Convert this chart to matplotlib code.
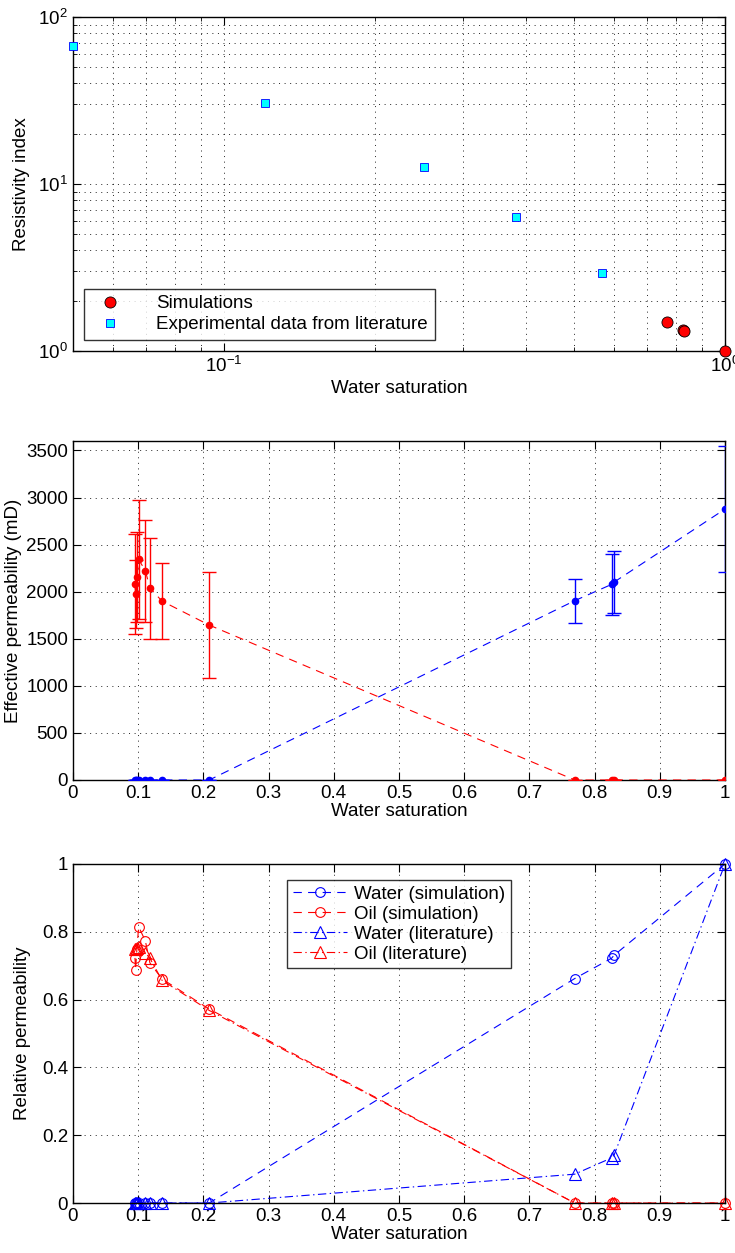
import matplotlib
matplotlib.use("Agg")
import matplotlib.pyplot as plt
from matplotlib.ticker import FormatStrFormatter, LogLocator, NullFormatter

plt.rcParams['font.family'] = ['Liberation Sans', 'DejaVu Sans']
plt.rcParams['font.size'] = 13.5
plt.rcParams['lines.scale_dashes'] = False
plt.rcParams['xtick.direction'] = 'in'
plt.rcParams['ytick.direction'] = 'in'
plt.rcParams['xtick.top'] = True
plt.rcParams['ytick.right'] = True
plt.rcParams['axes.linewidth'] = 1.0

# --- resistivity index (top) ---
ri_sw_sim = [0.766, 0.825, 0.83, 1.0]
ri_sim = [1.49, 1.34, 1.32, 1.0]
ri_sw_lit = [0.05, 0.121, 0.251, 0.382, 0.569]
ri_lit = [67.0, 30.5, 12.6, 6.35, 2.93]

# --- effective permeability (middle) ---
sw = [0.095, 0.096, 0.098, 0.1007, 0.111, 0.118, 0.1365, 0.209, 0.7694, 0.826, 0.830, 1.0]
k_oil = [2081, 1975, 2159, 2342, 2222, 2038, 1900, 1645, 0, 0, 0, 0]
k_oil_err = [527, 364, 477, 628, 543, 537, 400, 560, 0, 0, 0, 0]
k_water = [0, 0, 0, 0, 0, 0, 0, 0, 1904, 2077, 2102, 2877]
k_water_err = [0, 0, 0, 0, 0, 0, 0, 0, 232, 325, 332, 670]

# --- relative permeability (bottom) ---
kr_w_sim = [0, 0, 0, 0, 0, 0, 0, 0, 0.662, 0.722, 0.731, 1.0]
kr_o_sim = [0.723, 0.688, 0.750, 0.815, 0.773, 0.708, 0.661, 0.572, 0, 0, 0, 0]
kr_w_lit = [0, 0, 0, 0, 0, 0, 0, 0, 0.085, 0.133, 0.142, 1.0]
kr_o_lit = [0.748, 0.750, 0.752, 0.756, 0.738, 0.722, 0.657, 0.568, 0, 0, 0, 0]

DASH = (6, 4.5)
DASHDOT = (6, 2.5, 1, 2.5)
GRID = dict(color='k', linestyle=(0, (0.7, 3.3)), linewidth=0.6)

fig = plt.figure(figsize=(7.35, 12.53), dpi=100)
L, W = 73 / 735, 652 / 735

def fig_box(top_px, bot_px):
    return [L, 1 - bot_px / 1253, W, (bot_px - top_px) / 1253]

# top panel
ax1 = fig.add_axes(fig_box(17, 351))
ax1.set_xscale('log')
ax1.set_yscale('log')
ax1.plot(ri_sw_sim, ri_sim, 'o', ms=8, mfc='r', mec='k', mew=0.6,
         label='Simulations', clip_on=False, zorder=5)
ax1.plot(ri_sw_lit, ri_lit, 's', ms=5.5, mfc='#00FFFF', mec='b', mew=0.6,
         label='Experimental data from literature', clip_on=False, zorder=5)
ax1.set_xlim(0.05, 1)
ax1.set_ylim(1, 100)
ax1.xaxis.set_major_locator(LogLocator(base=10))
ax1.xaxis.set_minor_locator(LogLocator(base=10, subs=range(2, 10)))
ax1.xaxis.set_minor_formatter(NullFormatter())
ax1.yaxis.set_minor_formatter(NullFormatter())
ax1.grid(True, which='both', **GRID)
ax1.tick_params(which='major', length=6)
ax1.tick_params(which='minor', length=3)
ax1.set_xlabel('Water saturation', labelpad=3)
ax1.set_ylabel('Resistivity index', labelpad=6)
leg1 = ax1.legend(loc='lower left', fancybox=False, edgecolor='k',
                  handletextpad=1.5, borderaxespad=0.6, labelspacing=0.2,
                  borderpad=0.35)
leg1.get_frame().set_linewidth(1.0)

# middle panel
ax2 = fig.add_axes(fig_box(441, 780))
ax2.errorbar(sw, k_water, yerr=k_water_err, fmt='none', ecolor='b',
             elinewidth=1.0, capsize=5, capthick=1.0, zorder=3)
ax2.plot(sw, k_water, color='b', lw=0.8, dashes=DASH, marker='o', ms=4.5,
         zorder=4)
ax2.errorbar(sw, k_oil, yerr=k_oil_err, fmt='none', ecolor='r',
             elinewidth=1.0, capsize=5, capthick=1.0, zorder=3)
ax2.plot(sw, k_oil, color='r', lw=0.8, dashes=DASH, marker='o', ms=4.5,
         zorder=4)
ax2.set_xlim(0, 1)
ax2.set_ylim(0, 3600)
ax2.set_xticks([i / 10 for i in range(11)])
ax2.set_yticks(range(0, 3501, 500))
ax2.xaxis.set_major_formatter(FormatStrFormatter('%g'))
ax2.grid(True, **GRID)
ax2.tick_params(length=6)
ax2.set_xlabel('Water saturation', labelpad=1)
ax2.set_ylabel('Effective permeability (mD)', labelpad=3)

# bottom panel
ax3 = fig.add_axes(fig_box(864, 1203))
ax3.plot(sw, kr_w_sim, color='b', lw=0.8, dashes=DASH, marker='o', ms=7,
         mfc='none', mew=0.8, label='Water (simulation)', clip_on=False)
ax3.plot(sw, kr_o_sim, color='r', lw=0.8, dashes=DASH, marker='o', ms=7,
         mfc='none', mew=0.8, label='Oil (simulation)', clip_on=False)
ax3.plot(sw, kr_w_lit, color='b', lw=0.8, dashes=DASHDOT, marker='^', ms=8,
         mfc='none', mew=0.8, label='Water (literature)', clip_on=False)
ax3.plot(sw, kr_o_lit, color='r', lw=0.8, dashes=DASHDOT, marker='^', ms=8,
         mfc='none', mew=0.8, label='Oil (literature)', clip_on=False)
ax3.set_xlim(0, 1)
ax3.set_ylim(0, 1)
ax3.set_xticks([i / 10 for i in range(11)])
ax3.set_yticks([i / 5 for i in range(6)])
ax3.xaxis.set_major_formatter(FormatStrFormatter('%g'))
ax3.yaxis.set_major_formatter(FormatStrFormatter('%g'))
ax3.grid(True, **GRID)
ax3.tick_params(length=6)
ax3.set_xlabel('Water saturation', labelpad=1)
ax3.set_ylabel('Relative permeability', labelpad=8)
leg3 = ax3.legend(loc='upper center', bbox_to_anchor=(0.5, 0.98),
                  fancybox=False, edgecolor='k', handlelength=2.9,
                  handletextpad=0.4, labelspacing=0.15, borderpad=0.3)
leg3.get_frame().set_linewidth(1.0)

fig.savefig('out.png', dpi=100)
